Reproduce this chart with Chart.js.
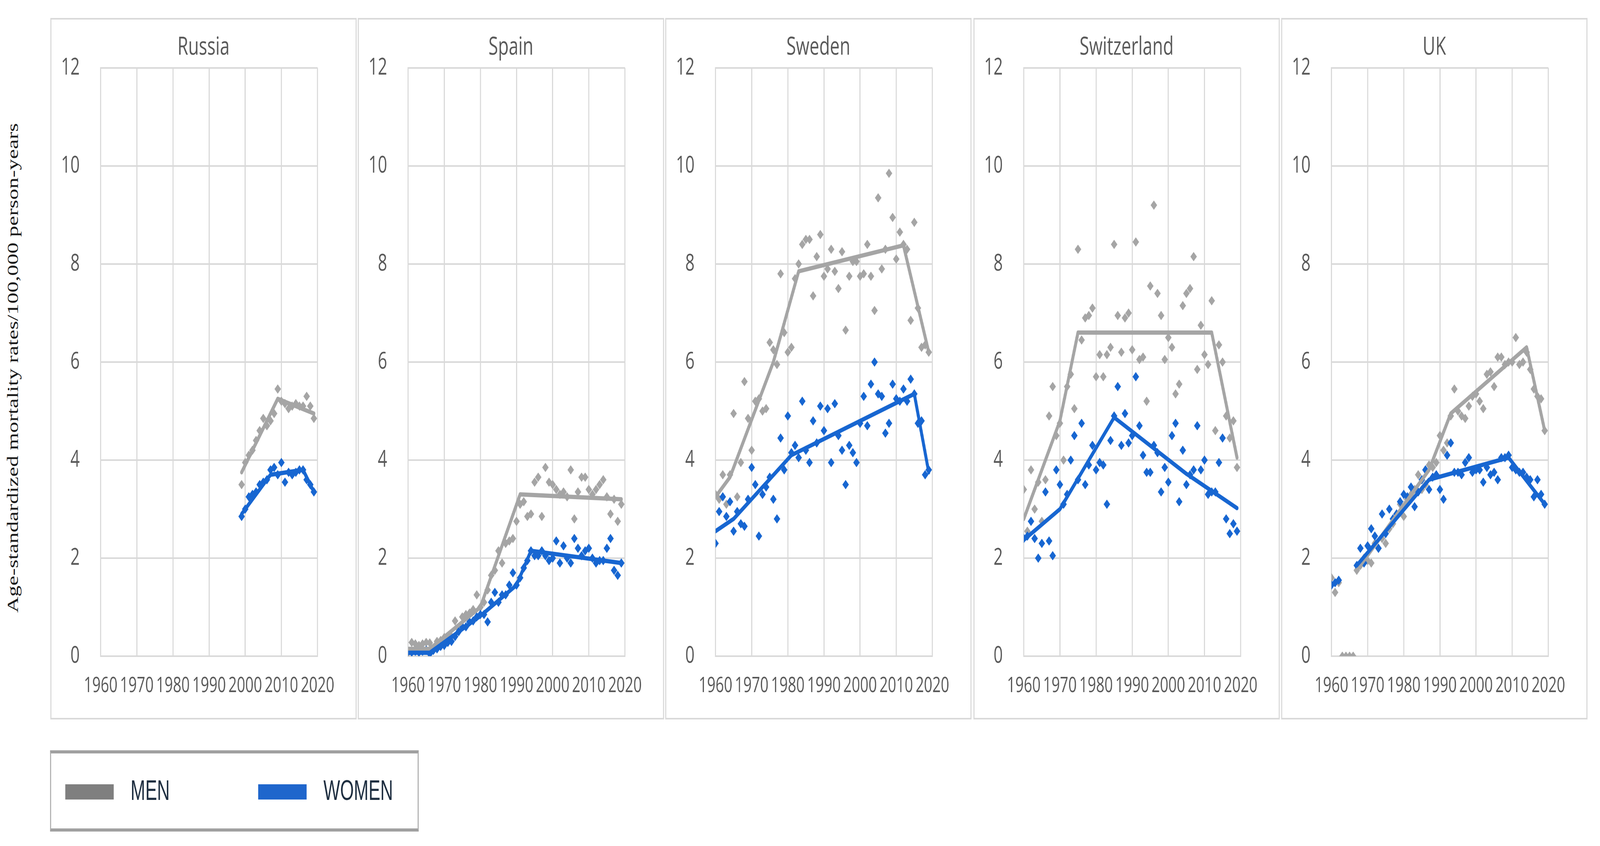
<!DOCTYPE html>
<html>
<head>
<meta charset="utf-8">
<script src="https://cdn.jsdelivr.net/npm/chart.js@4.4.1/dist/chart.umd.min.js"></script>
<style>
  html, body { margin: 0; padding: 0; background: #fff; overflow: hidden; }
  #page { position: relative; width: 5881px; height: 2166px; overflow: hidden; background: #fff; transform-origin: 0 0; }
  .panel { position: absolute; top: 46px; width: 1118px; height: 1788px; border: 4px solid #d9d9d9; background: #fff; }
  .panel canvas { display: block; }
  #ytitle {
    position: absolute; left: -653px; top: 908px; width: 1400px; height: 68px;
    line-height: 68px; text-align: center; white-space: nowrap;
    font-family: "Liberation Serif", "DejaVu Serif", serif; font-size: 57px; color: #1a1a1a;
    transform: rotate(-90deg);
  }
  #legend {
    position: absolute; left: 184px; top: 1921px; width: 1347px; height: 192px;
    border-top: 8px solid #a0a0a0; border-bottom: 8px solid #a0a0a0;
    border-left: 4px solid #b0b0b0; border-right: 4px solid #b0b0b0;
  }
  .swatch { position: absolute; width: 178px; height: 39px; }
  .ltext {
    position: absolute; font-family: "Liberation Sans", Arial, sans-serif; font-size: 72px;
    line-height: 72px; color: #1e2e40; white-space: nowrap;
    transform: scaleX(0.9); transform-origin: left center;
  }
</style>
</head>
<body>
<div id="page">
  <div id="ytitle">Age-standardized mortality rates/100,000 person-years</div>
  <div id="legend">
    <div class="swatch" style="left:52px;top:79px;background:#7f7f7f;"></div>
    <div class="ltext" style="left:292px;top:58px;">MEN</div>
    <div class="swatch" style="left:761px;top:79px;background:#1f66cc;"></div>
    <div class="ltext" style="left:1001px;top:58px;">WOMEN</div>
  </div>
</div>
<script>
// ---- data ----
const countries = ["Russia", "Spain", "Sweden", "Switzerland", "UK"];

const years = [
  1960, 1961, 1962, 1963, 1964, 1965, 1966, 1967, 1968, 1969,
  1970, 1971, 1972, 1973, 1974, 1975, 1976, 1977, 1978, 1979,
  1980, 1981, 1982, 1983, 1984, 1985, 1986, 1987, 1988, 1989,
  1990, 1991, 1992, 1993, 1994, 1995, 1996, 1997, 1998, 1999,
  2000, 2001, 2002, 2003, 2004, 2005, 2006, 2007, 2008, 2009,
  2010, 2011, 2012, 2013, 2014, 2015, 2016, 2017, 2018, 2019
];
const russiaYears = [
  1999, 2000, 2001, 2002, 2003, 2004, 2005, 2006, 2007, 2008,
  2009, 2010, 2011, 2012, 2013, 2014, 2015, 2016, 2017, 2018, 2019
];

const russiaMen = [3.5, 3.95, 4.1, 4.2, 4.4, 4.6, 4.85, 4.7, 4.8, 4.95,
  5.45, 5.2, 5.15, 5.05, 5.1, 5.15, 5.1, 5.1, 5.3, 5.1, 4.85];
const russiaWomen = [2.85, 3.0, 3.25, 3.3, 3.35, 3.5, 3.55, 3.6, 3.8, 3.85,
  3.7, 3.95, 3.55, 3.75, 3.7, 3.75, 3.8, 3.8, 3.6, 3.5, 3.35];

const spainMen = [
  0.07, 0.28, 0.25, 0.22, 0.25, 0.28, 0.27, 0.12, 0.3, 0.32,
  0.38, 0.35, 0.4, 0.72, 0.55, 0.8, 0.85, 0.88, 0.95, 1.25,
  1.0, 1.1, 1.35, 1.65, 1.75, 2.15, 1.9, 2.3, 2.35, 2.4,
  2.75, 3.1, 3.15, 2.85, 2.9, 3.55, 3.65, 2.85, 3.85, 3.55,
  3.5, 3.4, 3.3, 3.35, 3.25, 3.8, 2.8, 3.35, 3.65, 3.65,
  3.4, 3.3, 3.4, 3.5, 3.6, 3.25, 2.9, 3.2, 2.75, 3.1
];
const spainWomen = [
  0.1, 0.08, 0.1, 0.08, 0.1, 0.12, 0.05, 0.12, 0.15, 0.2,
  0.22, 0.28, 0.3, 0.4, 0.5, 0.6, 0.6, 0.7, 0.72, 0.8,
  0.85, 0.85, 0.7, 1.1, 1.3, 1.1, 1.25, 1.25, 1.45, 1.7,
  1.45, 1.6, 1.8, 1.95, 2.15, 2.05, 2.05, 2.15, 2.05, 1.95,
  2.0, 2.35, 1.9, 2.25, 2.0, 1.9, 2.4, 2.2, 2.05, 2.15,
  2.2, 2.0, 1.9, 1.95, 1.95, 2.2, 2.4, 1.75, 1.65, 1.9
];

const swedenMen = [
  3.3, 3.2, 3.7, 3.1, 3.7, 4.95, 3.25, 3.95, 5.6, 4.85,
  4.2, 5.2, 5.25, 5.0, 5.05, 6.4, 6.25, 5.95, 7.8, 6.6,
  6.2, 6.3, 7.7, 8.0, 8.4, 8.5, 8.5, 7.35, 8.15, 8.6,
  7.75, 7.9, 8.3, 7.85, 7.5, 8.25, 6.65, 7.75, 8.05, 8.05,
  7.75, 7.8, 8.4, 7.75, 7.05, 9.35, 7.9, 8.3, 9.85, 8.95,
  8.1, 8.65, 8.4, 8.3, 6.85, 8.85, 7.1, 6.3, 6.35, 6.2
];
const swedenWomen = [
  2.3, 2.95, 3.25, 2.85, 3.15, 2.55, 2.95, 2.7, 2.65, 3.2,
  3.85, 3.5, 2.45, 3.3, 3.45, 3.65, 3.2, 2.8, 4.45, 3.8,
  4.9, 4.15, 4.3, 4.05, 5.2, 4.2, 3.95, 4.8, 4.35, 5.1,
  4.6, 5.05, 3.95, 5.15, 4.5, 4.2, 3.5, 4.3, 4.15, 3.95,
  4.75, 5.3, 4.7, 5.55, 6.0, 5.35, 5.3, 4.55, 4.75, 5.55,
  5.25, 5.2, 5.45, 5.2, 5.65, 5.35, 4.75, 4.8, 3.7, 3.8
];

const switzerlandMen = [
  3.4, 2.55, 3.8, 3.0, 3.55, 2.75, 3.6, 4.9, 5.5, 4.5,
  4.75, 4.0, 5.5, 5.75, 5.05, 8.3, 6.45, 6.9, 6.95, 7.1,
  5.7, 6.15, 5.7, 6.15, 6.3, 8.4, 6.95, 6.2, 6.9, 7.0,
  6.25, 8.45, 6.05, 6.1, 5.2, 7.55, 9.2, 7.4, 6.95, 6.05,
  6.5, 6.3, 5.35, 5.55, 7.15, 7.4, 7.5, 8.15, 5.85, 6.75,
  6.15, 5.95, 7.25, 4.6, 6.35, 6.0, 4.9, 4.45, 4.8, 3.85
];
const switzerlandWomen = [
  2.4, 2.45, 2.75, 2.4, 2.0, 2.3, 3.35, 2.35, 2.05, 3.8,
  3.5, 3.1, 3.3, 4.0, 4.5, 3.6, 4.75, 3.5, 3.9, 4.3,
  3.8, 3.95, 3.9, 3.1, 4.4, 4.9, 5.5, 4.3, 4.95, 4.35,
  4.5, 5.7, 4.7, 4.1, 3.75, 3.75, 4.3, 4.15, 3.35, 3.85,
  3.55, 4.5, 4.75, 3.15, 4.2, 3.5, 3.7, 3.8, 4.7, 3.8,
  4.0, 3.3, 3.35, 3.35, 3.95, 4.45, 2.8, 2.5, 2.7, 2.55
];

const ukMen = [
  1.6, 1.3, 1.5, 0, 0, 0, 0, 1.75, 1.85, 2.0,
  1.95, 1.9, 2.3, 2.2, 2.4, 2.3, 2.6, 2.7, 2.9, 3.1,
  2.85, 3.2, 3.3, 3.4, 3.7, 3.4, 3.5, 3.9, 3.85, 3.95,
  4.5, 4.2, 4.35, 4.9, 5.45, 5.0, 4.9, 4.85, 5.1, 5.3,
  5.35, 5.2, 5.05, 5.75, 5.8, 5.5, 6.1, 6.1, 5.95, 6.0,
  6.0, 6.5, 5.95, 6.0, 6.2, 5.85, 5.45, 5.3, 5.25, 4.6
];
const ukWomen = [
  1.45, 1.5, 1.55, null, null, null, null, 1.85, 2.2, 1.9,
  2.25, 2.6, 2.45, 2.2, 2.9, 2.5, 3.0, 2.8, 2.9, 3.15,
  3.3, 3.25, 3.45, 3.05, 3.35, 3.6, 3.8, 3.4, 3.65, 3.7,
  3.4, 3.2, 4.1, 4.35, 3.75, 3.75, 3.7, 3.95, 4.05, 3.75,
  3.8, 3.8, 3.55, 3.85, 3.7, 3.75, 3.6, 4.05, 4.05, 4.1,
  3.85, 3.8, 3.75, 3.75, 3.65, 3.6, 3.25, 3.6, 3.3, 3.1
];

// joinpoint trend lines: [year, rate]; null rate = break in the line
const russiaMenTrend = [[1999, 3.75], [2009, 5.25], [2019, 4.95]];
const russiaWomenTrend = [[1999, 2.9], [2007, 3.7], [2016, 3.8], [2019, 3.35]];
const spainMenTrend = [[1960, 0.15], [1966, 0.15], [1980, 1.0], [1991, 3.3], [2019, 3.2]];
const spainWomenTrend = [[1960, 0.07], [1966, 0.07], [1980, 0.82], [1990, 1.45], [1994, 2.15], [2019, 1.9]];
const swedenMenTrend = [[1960, 3.25], [1964, 3.65], [1976, 6.0], [1983, 7.85], [2012, 8.38], [2019, 6.2]];
const swedenWomenTrend = [[1960, 2.55], [1965, 2.8], [1981, 4.1], [2015, 5.35], [2019, 3.75]];
const switzerlandMenTrend = [[1960, 2.8], [1970, 4.8], [1975, 6.6], [2012, 6.6], [2019, 4.05]];
const switzerlandWomenTrend = [[1960, 2.37], [1970, 3.0], [1985, 4.87], [2005, 3.72], [2019, 3.02]];
const ukMenTrend = [[1967, 1.75], [1987, 3.8], [1993, 4.95], [2014, 6.3], [2019, 4.6]];
const ukWomenTrend = [[1960, 1.45], [1962, 1.55], [1964, null], [1967, 1.85], [1987, 3.6], [2009, 4.05], [2019, 3.1]];

const yTicks = [0, 2, 4, 6, 8, 10, 12];
const xTicks = [1960, 1970, 1980, 1990, 2000, 2010, 2020];

// ---- drawing ----
const MEN_COLOR = "#a5a5a5";
const WOMEN_COLOR = "#1766d1";
const GRID = "#d9d9d9";
const TEXT = "#595959";
const FONT = "'Open Sans', 'Liberation Sans', sans-serif";
const PAGE_W = 5881, PAGE_H = 2166;
const PANEL_LEFT = [185, 1315, 2445, 3578, 4709];

const page = document.getElementById("page");
// the layout is drawn at 5881x2166 and stretched onto whatever window we get
function fitPage() {
  const sx = window.innerWidth / PAGE_W;
  const sy = window.innerHeight / PAGE_H;
  page.style.transform = "scale(" + sx + "," + sy + ")";
}
fitPage();
window.addEventListener("resize", fitPage);

const panels = [
  [russiaYears, russiaMen, russiaWomen, russiaMenTrend, russiaWomenTrend],
  [years, spainMen, spainWomen, spainMenTrend, spainWomenTrend],
  [years, swedenMen, swedenWomen, swedenMenTrend, swedenWomenTrend],
  [years, switzerlandMen, switzerlandWomen, switzerlandMenTrend, switzerlandWomenTrend],
  [years, ukMen, ukWomen, ukMenTrend, ukWomenTrend]
];

const toPoints = (xs, ys) => xs.map((x, i) => ({ x: x, y: ys[i] }));
const toLine = (pairs) => pairs.map(([x, y]) => ({ x: x, y: y }));

function lineSet(label, data, color) {
  return {
    label, data, showLine: true, borderColor: color, backgroundColor: color,
    borderWidth: 11, pointRadius: 0, borderCapStyle: "round", borderJoinStyle: "round", spanGaps: false
  };
}
function pointSet(label, data, color) {
  return {
    label, data, showLine: false, backgroundColor: color, borderWidth: 0,
    pointStyle: "rectRot", pointRadius: 12
  };
}

countries.forEach((name, k) => {
  const [xs, men, women, menTrend, womenTrend] = panels[k];
  const div = document.createElement("div");
  div.className = "panel";
  div.style.left = PANEL_LEFT[k] + "px";
  const canvas = document.createElement("canvas");
  canvas.width = 1118;
  canvas.height = 1788;
  div.appendChild(canvas);
  page.appendChild(div);

  new Chart(canvas.getContext("2d"), {
    type: "scatter",
    data: {
      // first dataset is painted last (on top)
      datasets: [
        lineSet("WOMEN trend", toLine(womenTrend), WOMEN_COLOR),
        lineSet("MEN trend", toLine(menTrend), MEN_COLOR),
        pointSet("WOMEN", toPoints(xs, women), WOMEN_COLOR),
        pointSet("MEN", toPoints(xs, men), MEN_COLOR)
      ]
    },
    options: {
      responsive: false,
      animation: false,
      layout: { padding: 0 },
      plugins: {
        legend: { display: false },
        tooltip: { enabled: false },
        title: {
          display: true, text: name, color: TEXT,
          font: { family: FONT, size: 64, weight: "normal" },
          padding: { top: 33, bottom: 14 }
        }
      },
      scales: {
        x: {
          type: "linear", min: xTicks[0], max: xTicks[xTicks.length - 1],
          afterBuildTicks: (axis) => { axis.ticks = xTicks.map((v) => ({ value: v })); },
          afterFit: (axis) => { axis.height = 158; },
          ticks: {
            autoSkip: false, maxRotation: 0, minRotation: 0, padding: 44, color: TEXT,
            font: { family: FONT, size: 54 },
            callback: (v) => String(v)
          },
          grid: { color: GRID, lineWidth: 4, drawTicks: false },
          border: { color: GRID, width: 4 }
        },
        y: {
          min: yTicks[0], max: yTicks[yTicks.length - 1],
          afterBuildTicks: (axis) => { axis.ticks = yTicks.map((v) => ({ value: v })); },
          afterFit: (axis) => { axis.width = 181; },
          ticks: { padding: 77, color: TEXT, font: { family: FONT, size: 60 } },
          grid: { color: GRID, lineWidth: 4, drawTicks: false },
          border: { color: GRID, width: 4 }
        },
        spacer: {
          type: "linear", position: "right", min: 0, max: 1,
          afterFit: (axis) => { axis.width = 140; },
          ticks: { display: false },
          grid: { display: false, drawTicks: false },
          border: { display: false }
        }
      }
    }
  });
});
</script>
</body>
</html>
